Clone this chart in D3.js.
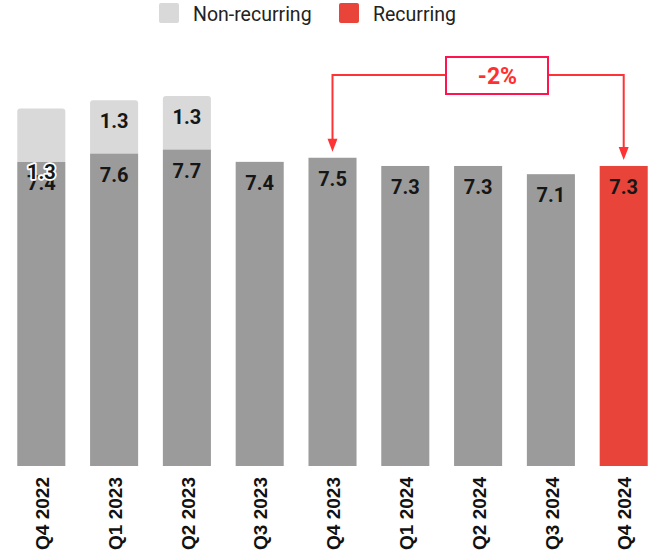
<!DOCTYPE html>
<html>
<head>
<meta charset="utf-8">
<script src="https://cdn.jsdelivr.net/npm/d3@7"></script>
<style>
  html, body { margin: 0; padding: 0; background: #fff; }
  svg { display: block; }
</style>
</head>
<body>
<svg id="chart" width="648" height="555"></svg>
<script>
// Quarterly values (recurring base + one-off component)
const quarters = ["Q4 2022", "Q1 2023", "Q2 2023", "Q3 2023", "Q4 2023",
                  "Q1 2024", "Q2 2024", "Q3 2024", "Q4 2024"];
const recurring = [7.4, 7.6, 7.7, 7.4, 7.5, 7.3, 7.3, 7.1, 7.3];
const nonRecurring = [1.3, 1.3, 1.3, 0, 0, 0, 0, 0, 0];
const legendLabels = ["Non-recurring", "Recurring"];
const changeLabel = "-2%";
const compareFrom = "Q4 2023";
const compareTo = "Q4 2024";

const colors = {
  recurring: "#9b9b9b",
  nonRecurring: "#d9d9d9",
  highlight: "#e8443a",
  accent: "#ff3333",
  boxStroke: "#ff1450",
  text: "#161616"
};

const svg = d3.select("#chart");

const x = d3.scaleBand()
  .domain(quarters)
  .range([4.9, 660.1])
  .paddingInner(0.34)
  .paddingOuter(0.17);

const y = d3.scaleLinear().domain([0, 10]).range([466, 55]);

const rows = quarters.map((q, i) => ({
  q, i, rec: recurring[i], non: nonRecurring[i],
  last: i === quarters.length - 1
}));

// Path for a rectangle with rounded top corners
function topRounded(x0, y0, w, h, r) {
  return `M${x0},${y0 + h}V${y0 + r}Q${x0},${y0} ${x0 + r},${y0}` +
         `H${x0 + w - r}Q${x0 + w},${y0} ${x0 + w},${y0 + r}V${y0 + h}Z`;
}

const bars = svg.append("g");

// Non-recurring segments stacked on top
bars.selectAll("path.non")
  .data(rows.filter(d => d.non > 0))
  .join("path")
  .attr("class", "non")
  .attr("fill", colors.nonRecurring)
  .attr("d", d => topRounded(x(d.q), y(d.rec + d.non), x.bandwidth(),
                             y(d.rec) - y(d.rec + d.non), 3));

// Recurring base bars
bars.selectAll("rect.rec")
  .data(rows)
  .join("rect")
  .attr("class", "rec")
  .attr("x", d => x(d.q))
  .attr("y", d => y(d.rec))
  .attr("width", x.bandwidth())
  .attr("height", d => y(0) - y(d.rec))
  .attr("fill", d => d.last ? colors.highlight : colors.recurring);

// Value labels
const labelFont = "Roboto, 'Liberation Sans', Arial, sans-serif";
const labels = svg.append("g")
  .attr("font-family", labelFont)
  .attr("font-weight", 700)
  .attr("font-size", 20)
  .attr("fill", colors.text)
  .attr("text-anchor", "middle");

labels.selectAll("text.rec")
  .data(rows)
  .join("text")
  .attr("class", "rec")
  .attr("x", d => x(d.q) + x.bandwidth() / 2)
  .attr("y", d => y(d.rec) + 28)
  .text(d => d.rec.toFixed(1));

// First column's one-off label sits low on the segment boundary with a halo
labels.selectAll("text.non")
  .data(rows.filter(d => d.non > 0))
  .join("text")
  .attr("class", "non")
  .attr("x", d => x(d.q) + x.bandwidth() / 2)
  .attr("y", d => d.i === 0 ? y(d.rec) + 17 : y(d.rec + d.non) + 28)
  .attr("stroke", d => d.i === 0 ? "#fff" : "none")
  .attr("stroke-width", 3.5)
  .attr("stroke-linejoin", "round")
  .attr("paint-order", "stroke")
  .text(d => d.non.toFixed(1));

// Category axis with vertical labels
const axis = svg.append("g")
  .attr("transform", `translate(0,${y(0)})`)
  .call(d3.axisBottom(x).tickSize(0).tickPadding(0));
axis.select(".domain").remove();
axis.selectAll("text")
  .attr("font-family", "'Liberation Sans', Arial, sans-serif")
  .attr("font-weight", 700)
  .attr("font-size", 19)
  .attr("fill", "#111")
  .attr("text-anchor", "end")
  .attr("transform", "rotate(-90)")
  .attr("x", -11)
  .attr("y", 0)
  .attr("dy", "0.4em");

// Legend
const legend = svg.append("g")
  .attr("font-family", "Roboto, 'Liberation Sans', Arial, sans-serif")
  .attr("font-size", 19.5)
  .attr("fill", "#222");
const legendItems = [
  { label: legendLabels[0], color: colors.nonRecurring, sx: 159 },
  { label: legendLabels[1], color: colors.highlight, sx: 339 }
];
legendItems.forEach(it => {
  legend.append("rect")
    .attr("x", it.sx).attr("y", 3)
    .attr("width", 20).attr("height", 20)
    .attr("rx", 2)
    .attr("fill", it.color);
  legend.append("text")
    .attr("x", it.sx + 34).attr("y", 21)
    .text(it.label);
});

// Change annotation between two quarters
const fromX = x(compareFrom) + x.bandwidth() / 2;
const toX = x(compareTo) + x.bandwidth() / 2;
const fromTop = y(recurring[quarters.indexOf(compareFrom)]) - 6;
const toTop = y(recurring[quarters.indexOf(compareTo)]) - 6;
const lineY = 75;
const box = { x: 446, y: 57, w: 102, h: 37 };

const ann = svg.append("g");
const line = d3.line();
ann.append("path")
  .attr("d", line([[box.x, lineY], [fromX, lineY], [fromX, fromTop - 12]]))
  .attr("fill", "none").attr("stroke", colors.accent).attr("stroke-width", 2);
ann.append("path")
  .attr("d", line([[box.x + box.w, lineY], [toX, lineY], [toX, toTop - 12]]))
  .attr("fill", "none").attr("stroke", colors.accent).attr("stroke-width", 2);
// Arrowheads
[[fromX, fromTop], [toX, toTop]].forEach(([ax, ay]) => {
  ann.append("path")
    .attr("d", `M${ax - 5},${ay - 13}L${ax + 5},${ay - 13}L${ax},${ay}Z`)
    .attr("fill", colors.accent);
});
ann.append("rect")
  .attr("x", box.x).attr("y", box.y)
  .attr("width", box.w).attr("height", box.h)
  .attr("fill", "#fff")
  .attr("stroke", colors.boxStroke).attr("stroke-width", 2);
ann.append("text")
  .attr("x", box.x + box.w / 2 + 0.5).attr("y", 84)
  .attr("text-anchor", "middle")
  .attr("font-family", "Roboto, 'Liberation Sans', Arial, sans-serif")
  .attr("font-weight", 700)
  .attr("font-size", 23)
  .attr("fill", "#ff3030")
  .text(changeLabel);
</script>
</body>
</html>
